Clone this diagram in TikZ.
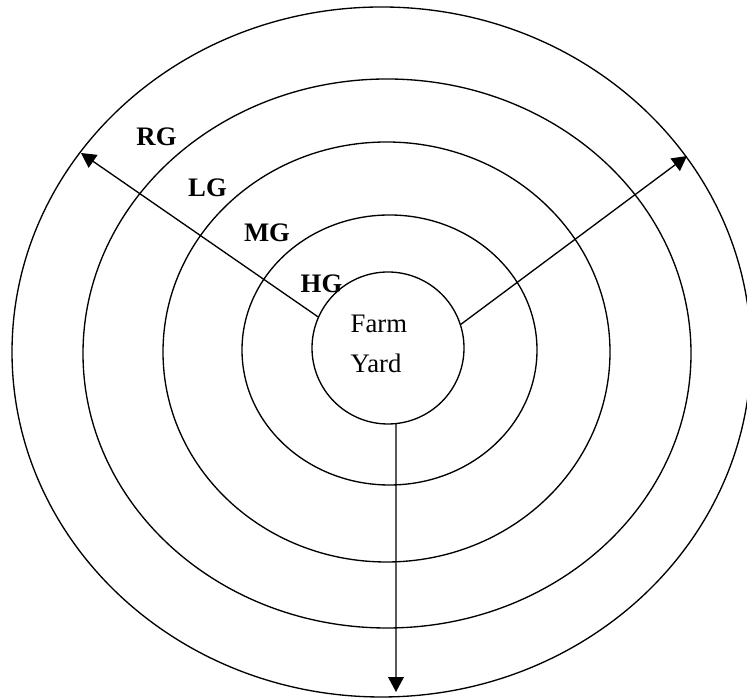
\documentclass[tikz,border=0pt]{standalone}
\usepackage{fontspec}
\setmainfont{Liberation Serif}
\usetikzlibrary{arrows.meta}

\begin{document}
\begin{tikzpicture}[line width=0.95pt,
  grade/.style={font=\fontsize{19}{23}\selectfont\bfseries, anchor=base, inner sep=0pt},
  outarrow/.style={-{Triangle[length=10.5pt,width=11pt]}}]
\useasboundingbox (0,0) rectangle (18.675,17.475);
% ---- grazing rings ----
\foreach \cx/\cy/\rx/\ry in {9.5375/8.675/9.2375/8.625, 9.675/8.6375/7.6/6.8625,
  9.6625/8.675/5.5875/5.25, 9.7375/8.725/3.6875/3.375}
  \draw (\cx,\cy) ellipse [x radius=\rx, y radius=\ry];
% ---- farm yard ----
\node[circle, draw, minimum size=3.8cm, inner sep=0pt] (yard) at (9.7,8.775) {};
\node[align=left, anchor=base west, inner sep=0pt, font=\fontsize{19}{28.45}\selectfont]
  (yardtxt) at (8.75,8.15) {Farm\\Yard};
% ---- grade labels ----
\foreach \n/\x/\y in {RG/3.9125/13.825, LG/5.1875/12.55, MG/6.675/11.425, HG/8.0375/10.15}
  \node[grade] (\n) at (\x,\y) {\n};
% ---- arrows out of the yard ----
\coordinate (outW) at (2.025,13.65);
\coordinate (outE) at (17.175,13.575);
\coordinate (outS) at (9.9,0.175);
\draw[outarrow] (yard.156.8) -- (outW);
\draw[outarrow] (yard.18.9) -- (outE);
\draw[outarrow] (yard.-84) -- (outS);
\end{tikzpicture}
\end{document}
